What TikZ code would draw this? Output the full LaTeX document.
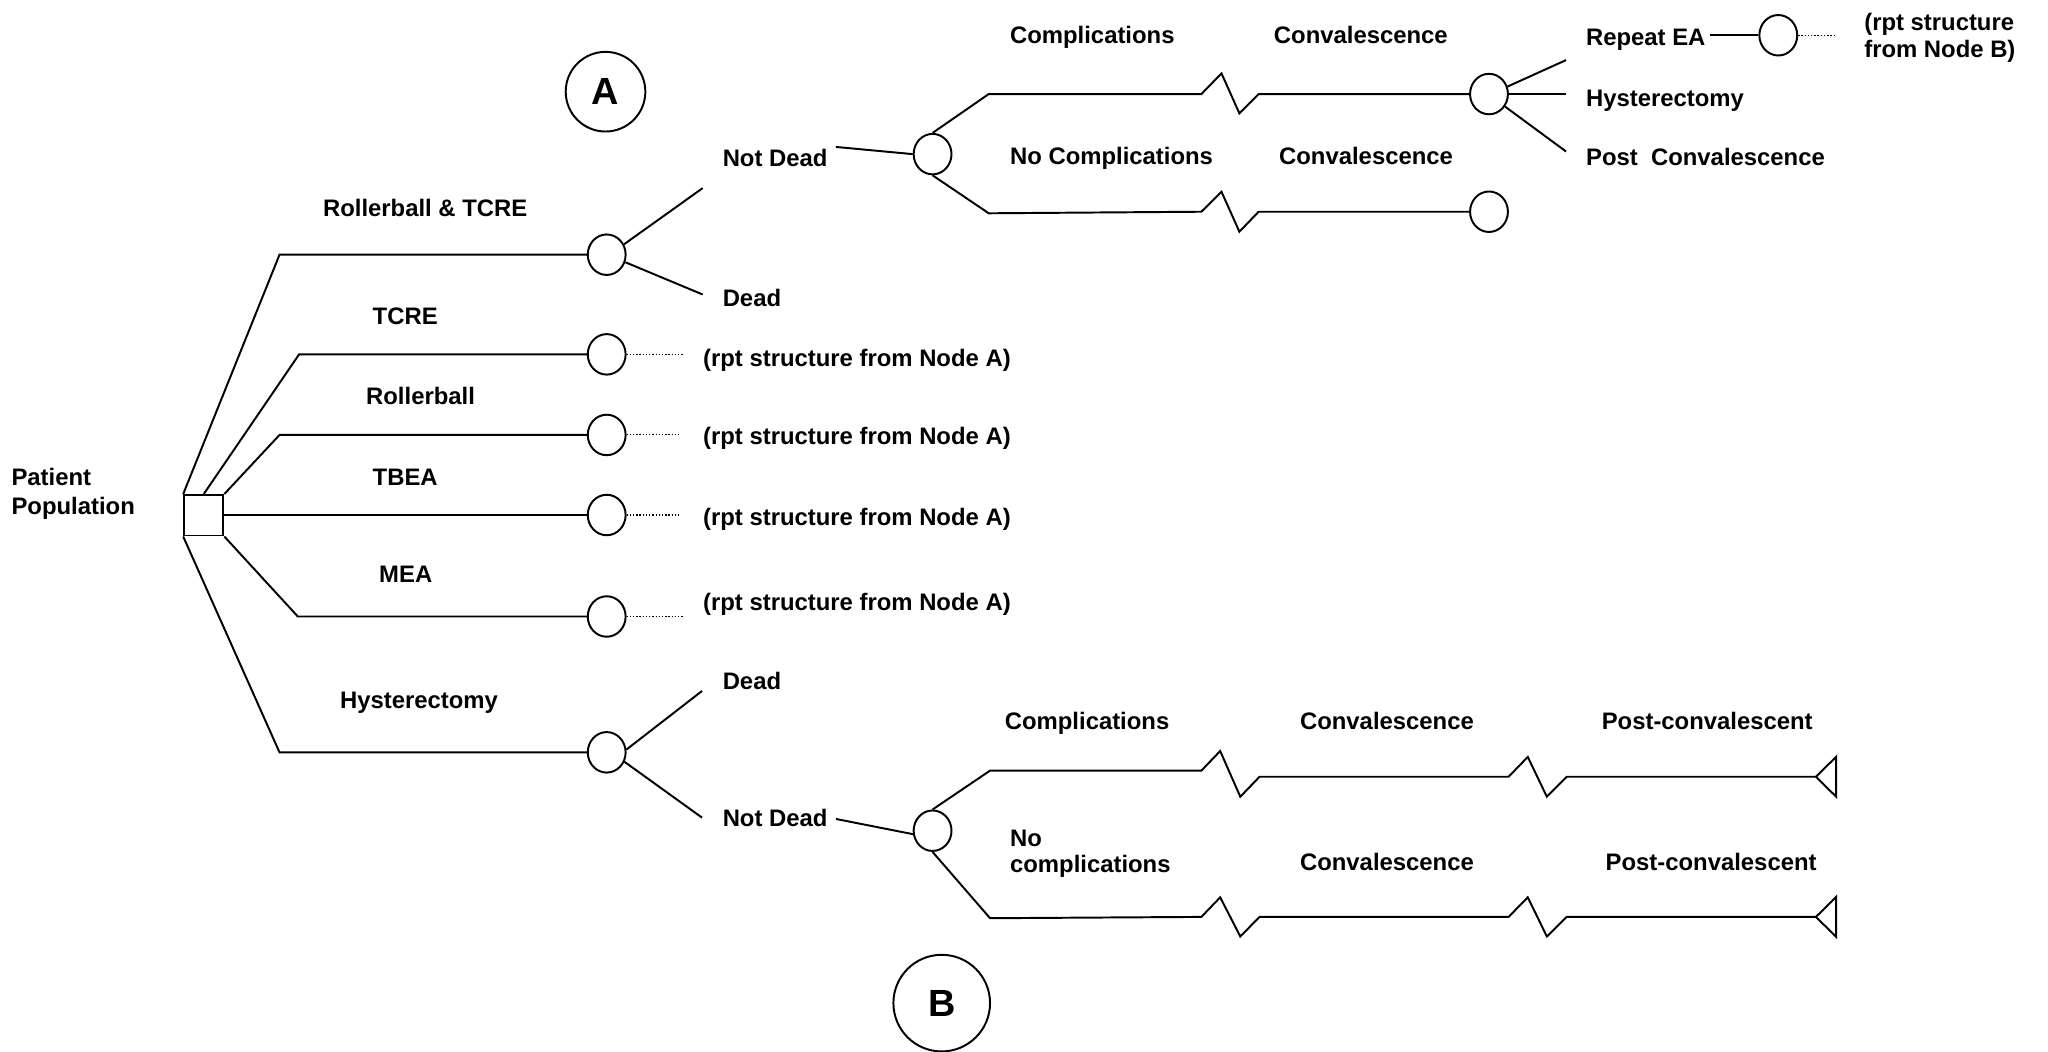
\documentclass[tikz,border=0pt]{standalone}
\usepackage{fontspec}
\setmainfont{Liberation Sans}
\usetikzlibrary{shapes.geometric}
\newcommand\lblfont{\fontsize{10.4}{12.5}\selectfont\bfseries}
\newcommand\tagfont{\fontsize{16.5}{19}\selectfont\bfseries}

\tikzset{
  lnk/.style={line width=0.85pt, line join=miter},
  rptline/.style={line width=0.45pt, dash pattern=on 0.6pt off 0.8pt},
  chance/.style={draw, ellipse, minimum width=0.58cm, minimum height=0.62cm,
                 inner sep=0pt, line width=0.85pt},
  decision/.style={draw, rectangle, minimum width=0.6cm, minimum height=0.62cm,
                   inner sep=0pt, line width=0.85pt},
  lbl/.style={anchor=base west, inner sep=0pt, font=\lblfont},
  lbltwo/.style={anchor=north west, inner sep=0pt, align=left},
  tag/.style={draw, circle, line width=0.85pt, inner sep=0pt, font=\tagfont},
}

\begin{document}
\begin{tikzpicture}[x=0.02cm, y=-0.02cm]
\useasboundingbox (0,0) rectangle (1568,805);

% ---- node tags
\node[tag, minimum size=1.22cm] (tagA) at (463.6,70.2) {A};
\node[tag, minimum size=1.48cm] (tagB) at (721,768) {B};

% ---- root decision
\node[decision] (root) at (156,394.5) {};
\node[lbltwo, font={\fontsize{10.4}{12.5}\selectfont\bfseries}] (pp) at (8.5,358.4) {Patient\\Population};

% ---- first-level chance nodes
\node[chance] (c1) at (464.5,195) {};
\node[chance] (c2) at (464.5,271.3) {};
\node[chance] (c3) at (464.5,333) {};
\node[chance] (c4) at (464.5,394.3) {};
\node[chance] (c5) at (464.5,472) {};
\node[chance] (c6) at (464.5,576) {};

\draw[lnk] (root.north west) -- (214,195) -- (c1.west);
\draw[lnk] (root.north) -- (229,271.3) -- (c2.west);
\draw[lnk] (root.north east) -- (214,333) -- (c3.west);
\draw[lnk] (root.east |- c4) -- (c4.west);
\draw[lnk] (root.south east) -- (228,472) -- (c5.west);
\draw[lnk] (root.south west) -- (214,576) -- (c6.west);

\node[lbl] (l1) at (247,165.6) {Rollerball \& TCRE};
\node[lbl] (l2) at (285,248.6) {TCRE};
\node[lbl] (l3) at (280,309.6) {Rollerball};
\node[lbl] (l4) at (285,371.6) {TBEA};
\node[lbl] (l5) at (290,445.6) {MEA};
\node[lbl] (l6) at (260,542.6) {Hysterectomy};

% ---- repeated structures
\coordinate (d2) at (523,271.3);
\coordinate (d3) at (521,333);
\coordinate (d4) at (521,394.3);
\coordinate (d5) at (523,472);
\draw[rptline] (c2.east) -- (d2);
\draw[rptline] (c3.east) -- (d3);
\draw[rptline] (c4.east) -- (d4);
\draw[rptline] (c5.east) -- (d5);
\node[lbl] (r2) at (538,280.6) {(rpt structure from Node A)};
\node[lbl] (r3) at (538,340.6) {(rpt structure from Node A)};
\node[lbl] (r4) at (538,402.6) {(rpt structure from Node A)};
\node[lbl] (r5) at (538,467.3) {(rpt structure from Node A)};

% ---- Node A subtree
\coordinate (aUp) at (538,144);
\coordinate (aDn) at (538,225.5);
\draw[lnk] (c1.31) -- (aUp);
\draw[lnk] (c1.-22) -- (aDn);
\node[lbl] (aND) at (553,127.6) {Not Dead};
\node[lbl] (aD) at (553,234.6) {Dead};

\node[chance] (nA) at (714,118) {};
\coordinate (aNDe) at (640,112.5);
\draw[lnk] (aNDe) -- (nA.west);

\node[chance] (cv1) at (1140,72) {};
\node[chance] (cv2) at (1140,162.1) {};
\draw[lnk] (nA.north) -- (757,72) -- (919.8,72) -- (935.2,56.2) -- (948.9,86.8) -- (963.6,72) -- (cv1.west);
\draw[lnk] (nA.south) -- (757,163.3) -- (919.8,162.1) -- (935.2,146.8) -- (948.9,177.4) -- (963.6,162.1) -- (cv2.west);

\node[lbl] (aC) at (773,33.6) {Complications};
\node[lbl] (aCv) at (975,33.6) {Convalescence};
\node[lbl] (aNC) at (773,125.6) {No Complications};
\node[lbl] (aNCv) at (979,125.6) {Convalescence};

\coordinate (cvA) at (1199,46);
\coordinate (cvB) at (1199,72);
\coordinate (cvC) at (1199,116);
\draw[lnk] (cv1.22) -- (cvA);
\draw[lnk] (cv1.east) -- (cvB);
\draw[lnk] (cv1.-38) -- (cvC);
\node[lbl] (rep) at (1214,34.6) {Repeat EA};
\node[lbl] (hys) at (1214,81.6) {Hysterectomy};
\node[lbl] (post) at (1214,126.6) {Post\ \ Convalescence};

\node[chance] (re) at (1361.5,27) {};
\coordinate (reL) at (1309,27);
\coordinate (reR) at (1404,27);
\draw[lnk] (reL) -- (re.west);
\draw[rptline] (re.east) -- (reR);
\node[lbltwo, font={\fontsize{10.4}{11.9}\selectfont\bfseries}] (rB) at (1427,9.6) {(rpt structure\\from Node B)};

% ---- Hysterectomy subtree (Node B)
\coordinate (bUp) at (537.5,529);
\coordinate (bDn) at (537.5,626);
\draw[lnk] (c6.8) -- (bUp);
\draw[lnk] (c6.-28) -- (bDn);
\node[lbl] (bD) at (553,527.6) {Dead};
\node[lbl] (bND) at (553,632.6) {Not Dead};

\node[chance] (nB) at (714,636) {};
\coordinate (bNDe) at (640,627);
\draw[lnk] (bNDe) -- (nB.190);

% terminal triangles
\coordinate (t1) at (1390.3,594.7);
\coordinate (t2) at (1390.3,702);
\draw[lnk] (t1) -- ++(15.5,-15.3) -- ++(0,30.6) -- cycle;
\draw[lnk] (t2) -- ++(15.5,-15.3) -- ++(0,30.6) -- cycle;

\draw[lnk] (nB.north) -- (758,590) -- (919.8,590) -- (934.2,575) -- (949.6,610) -- (964.3,594.7)
  -- (1155,594.7) -- (1169.7,579.5) -- (1184.3,610) -- (1199.5,594.7) -- (t1);
\draw[lnk] (nB.south) -- (758,703) -- (919.8,702) -- (934.2,687) -- (949.6,717) -- (964.3,702)
  -- (1155,702) -- (1169.7,687) -- (1184.3,717) -- (1199.5,702) -- (t2);

\node[lbl] (bC) at (769,558.6) {Complications};
\node[lbltwo, font={\fontsize{10.4}{11.4}\selectfont\bfseries}] (bNC) at (773,635.4) {No\\complications};
\node[lbl] (bCv1) at (995,558.6) {Convalescence};
\node[lbl] (bCv2) at (995,666.6) {Convalescence};
\node[lbl] (bP1) at (1226,558.6) {Post-convalescent};
\node[lbl] (bP2) at (1229,666.6) {Post-convalescent};
\end{tikzpicture}
\end{document}
